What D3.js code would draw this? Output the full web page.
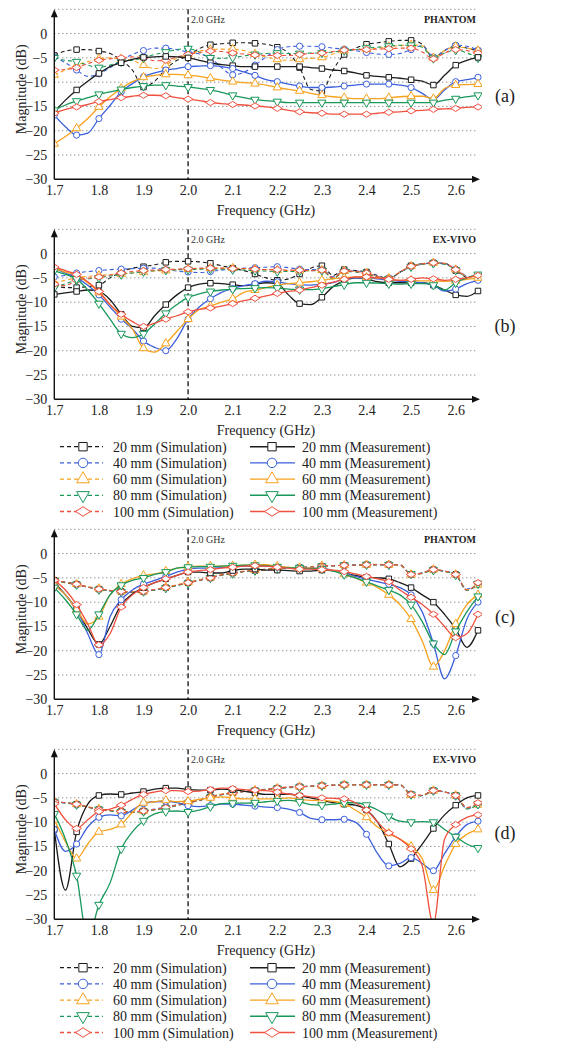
<!DOCTYPE html>
<html>
<head>
<meta charset="utf-8">
<script src="https://cdn.jsdelivr.net/npm/d3@7"></script>
<style>
  body { margin: 0; background: #fff; }
</style>
</head>
<body>
<svg id="chart" width="569" height="1042"></svg>
<script>
// frequency grid (GHz) shared by every curve
const freq = [1.700, 1.725, 1.750, 1.775, 1.800, 1.825, 1.850, 1.875, 1.900, 1.925,
  1.950, 1.975, 2.000, 2.025, 2.050, 2.075, 2.100, 2.125, 2.150, 2.175,
  2.200, 2.225, 2.250, 2.275, 2.300, 2.325, 2.350, 2.375, 2.400, 2.425,
  2.450, 2.475, 2.500, 2.525, 2.550, 2.575, 2.600, 2.625, 2.650];
const freqTicks = [1.7, 1.8, 1.9, 2.0, 2.1, 2.2, 2.3, 2.4, 2.5, 2.6];
const dbTicks = [0, -5, -10, -15, -20, -25, -30];
const dbGrid = [5, 0, -5, -10, -15, -20, -25];
const distances = ['20 mm', '40 mm', '60 mm', '80 mm', '100 mm'];
const panelTags = ['PHANTOM', 'EX-VIVO', 'PHANTOM', 'EX-VIVO'];
const panelNames = ['(a)', '(b)', '(c)', '(d)'];

// (a) phantom
const a_sim20 = [-4.5,-3.6,-3.3,-3.3,-3.6,-4.1,-5.5,-7.5,-11.0,-9.8,-7.3,-5.5,-4.6,-3.1,-2.3,-2.1,-1.9,-1.9,-2.0,-2.2,-2.8,-4.0,-7.0,-11.5,-11.8,-7.5,-4.3,-3.0,-2.2,-1.9,-1.6,-1.4,-1.4,-2.2,-5.0,-3.5,-2.6,-3.0,-3.6];
const a_sim40 = [-4.8,-6.0,-7.5,-8.8,-8.3,-7.0,-5.5,-4.3,-3.5,-3.0,-3.0,-3.3,-3.8,-4.2,-5.0,-7.0,-8.5,-8.0,-6.5,-4.8,-3.3,-2.7,-2.6,-2.6,-2.7,-3.0,-3.2,-3.5,-3.9,-4.2,-4.3,-4.1,-3.3,-2.5,-4.8,-3.5,-2.4,-2.6,-3.4];
const a_sim60 = [-8.5,-7.5,-6.5,-5.8,-5.2,-5.0,-5.2,-5.5,-6.5,-7.2,-6.5,-5.0,-4.3,-3.6,-3.3,-3.2,-3.2,-3.5,-4.2,-4.8,-5.3,-5.5,-5.3,-5.1,-4.9,-4.2,-3.5,-3.3,-3.2,-3.0,-2.7,-2.5,-2.3,-2.5,-5.0,-3.5,-2.7,-3.0,-3.5];
const a_sim80 = [-5.0,-5.5,-5.8,-6.5,-7.0,-6.5,-5.8,-5.5,-5.0,-4.3,-3.8,-3.3,-3.1,-3.8,-5.0,-5.1,-4.9,-4.6,-4.3,-4.1,-4.0,-4.1,-4.1,-4.0,-4.0,-3.8,-3.5,-3.3,-3.0,-2.8,-2.6,-2.4,-2.4,-2.8,-5.1,-4.0,-3.4,-4.0,-5.0];
const a_sim100 = [-7.5,-7.4,-7.0,-6.2,-5.5,-5.2,-5.0,-4.8,-5.0,-5.6,-5.5,-4.8,-4.3,-3.9,-3.6,-3.7,-4.0,-4.2,-4.4,-4.5,-4.5,-4.5,-4.3,-4.1,-4.0,-3.7,-3.4,-3.3,-3.3,-3.2,-3.1,-3.0,-3.0,-3.8,-5.2,-4.0,-3.3,-3.5,-4.0];
const a_meas20 = [-16.1,-13.7,-11.6,-9.8,-8.2,-6.8,-6.0,-5.3,-4.9,-4.8,-4.7,-4.8,-5.0,-5.5,-6.0,-6.4,-6.6,-6.8,-6.8,-6.8,-6.8,-6.8,-6.8,-7.0,-7.2,-7.5,-7.7,-8.1,-8.6,-8.8,-9.0,-9.2,-9.5,-9.8,-10.6,-8.6,-6.5,-5.5,-4.9];
const a_meas40 = [-16.8,-19.2,-20.9,-20.5,-17.5,-14.8,-12.0,-10.3,-8.9,-8.1,-7.5,-7.2,-6.8,-6.7,-6.6,-6.8,-7.2,-7.9,-8.6,-9.5,-9.9,-10.4,-10.8,-11.1,-11.1,-11.0,-10.8,-10.6,-10.4,-10.4,-10.4,-10.6,-11.1,-12.3,-13.6,-11.6,-9.9,-9.5,-9.0];
const a_meas60 = [-22.7,-21.2,-19.5,-17.5,-15.1,-13.0,-11.3,-9.9,-9.0,-8.6,-8.4,-8.4,-8.6,-8.8,-9.2,-9.6,-9.9,-10.1,-10.3,-10.6,-11.1,-11.5,-11.8,-12.3,-12.7,-13.0,-13.2,-13.4,-13.4,-13.4,-13.2,-13.0,-12.9,-12.9,-13.4,-11.3,-10.6,-10.5,-10.4];
const a_meas80 = [-15.8,-14.7,-13.9,-13.2,-12.5,-12.0,-11.5,-11.1,-10.8,-10.6,-10.6,-10.8,-11.0,-11.3,-11.6,-12.1,-12.7,-13.2,-13.6,-13.8,-14.0,-14.2,-14.2,-14.2,-14.2,-14.2,-14.2,-14.2,-14.2,-14.2,-14.2,-14.2,-14.2,-14.2,-14.2,-13.7,-13.4,-13.0,-12.7];
const a_meas100 = [-16.4,-15.6,-15.1,-14.6,-14.0,-13.6,-13.2,-12.9,-12.7,-12.7,-12.8,-13.2,-13.5,-13.8,-14.2,-14.4,-14.6,-14.7,-14.9,-15.1,-15.4,-15.8,-16.1,-16.3,-16.4,-16.6,-16.6,-16.6,-16.6,-16.4,-16.2,-16.1,-15.9,-15.8,-15.6,-15.5,-15.4,-15.2,-15.1];

// (b) ex-vivo
const b_sim20 = [-6.5,-7.0,-7.0,-6.8,-6.5,-5.0,-3.8,-3.0,-2.7,-2.3,-1.8,-1.6,-1.6,-1.7,-2.0,-2.5,-3.0,-3.5,-4.2,-5.0,-5.5,-5.2,-4.2,-3.0,-2.5,-4.5,-3.3,-3.5,-3.8,-4.5,-5.2,-3.8,-2.5,-2.1,-1.9,-2.0,-3.5,-5.0,null];
const b_sim40 = [-4.8,-4.5,-4.0,-3.7,-3.5,-3.3,-3.2,-3.1,-3.0,-3.0,-3.3,-3.6,-3.8,-3.9,-3.7,-3.4,-3.2,-3.0,-2.9,-2.8,-2.7,-2.9,-3.2,-3.3,-3.3,-4.8,-3.6,-3.6,-4.0,-4.7,-5.0,-3.9,-2.7,-2.2,-1.9,-2.1,-3.2,-4.8,null];
const b_sim60 = [-6.0,-5.5,-5.0,-4.7,-4.5,-4.3,-4.2,-4.0,-3.8,-3.6,-3.5,-3.3,-3.2,-3.1,-3.0,-3.0,-3.0,-3.1,-3.2,-3.3,-3.4,-3.5,-3.5,-3.5,-3.4,-5.0,-3.6,-3.7,-4.0,-4.8,-5.1,-3.8,-2.6,-2.2,-1.9,-2.1,-3.3,-4.9,null];
const b_sim80 = [-7.0,-6.2,-5.5,-5.2,-5.0,-4.6,-4.3,-4.0,-3.7,-3.5,-3.4,-3.3,-3.3,-3.2,-3.2,-3.2,-3.3,-3.4,-3.5,-3.6,-3.7,-3.7,-3.6,-3.5,-3.5,-5.2,-3.7,-3.8,-4.1,-4.9,-5.2,-3.9,-2.7,-2.2,-2.0,-2.2,-3.4,-5.0,null];
const b_sim100 = [-6.3,-6.6,-5.5,-5.1,-4.8,-4.4,-4.0,-3.7,-3.5,-3.4,-3.3,-3.2,-3.1,-3.0,-3.0,-3.0,-3.1,-3.1,-3.2,-3.3,-3.3,-3.4,-3.4,-3.5,-3.4,-5.0,-3.6,-3.7,-4.0,-4.8,-5.1,-3.8,-2.6,-2.1,-1.9,-2.0,-3.3,-4.9,null];
const b_meas20 = [-8.4,-8.1,-7.8,-7.5,-7.8,-9.5,-12.5,-15.0,-15.3,-12.8,-10.5,-8.5,-7.0,-6.3,-6.1,-6.2,-6.4,-6.6,-6.3,-6.0,-6.2,-8.5,-10.3,-10.5,-9.0,-6.8,-5.6,-5.0,-5.2,-5.8,-6.0,-6.0,-6.0,-6.0,-6.5,-7.5,-8.5,-8.8,-7.7];
const b_meas40 = [-3.0,-4.0,-5.0,-6.5,-8.5,-11.0,-13.5,-15.5,-18.0,-19.3,-20.0,-17.5,-13.5,-11.0,-9.3,-8.0,-7.2,-6.6,-6.2,-5.7,-5.8,-6.2,-6.4,-6.5,-6.3,-6.0,-5.2,-5.0,-5.0,-5.2,-5.5,-5.7,-5.8,-6.0,-6.5,-7.7,-7.3,-6.2,-5.5];
const b_meas60 = [-3.0,-3.8,-4.5,-6.0,-8.0,-10.5,-13.0,-15.5,-19.5,-20.3,-18.5,-16.0,-13.5,-11.5,-10.8,-10.0,-9.3,-8.0,-7.5,-7.0,-6.5,-6.2,-6.0,-5.8,-5.5,-5.2,-5.0,-4.8,-4.9,-5.0,-5.3,-5.5,-5.5,-5.6,-5.6,-5.7,-5.6,-5.3,-5.0];
const b_meas80 = [-3.5,-4.3,-5.2,-7.5,-10.3,-13.5,-16.5,-17.3,-16.5,-14.5,-12.3,-10.5,-9.0,-8.3,-7.8,-7.5,-7.3,-7.2,-7.1,-7.0,-7.1,-7.3,-7.4,-7.4,-7.2,-6.8,-6.4,-6.0,-6.0,-6.1,-6.2,-6.3,-6.2,-6.2,-6.5,-7.5,-6.0,-5.0,-4.3];
const b_meas100 = [-2.8,-3.5,-4.3,-5.8,-7.8,-10.5,-12.5,-14.0,-15.0,-14.3,-13.5,-12.8,-12.0,-11.5,-11.2,-10.8,-10.3,-9.7,-9.2,-8.7,-8.2,-7.8,-7.5,-7.0,-6.5,-5.9,-5.3,-4.8,-4.8,-5.0,-5.3,-5.5,-5.3,-5.0,-5.2,-5.5,-5.3,-5.0,-4.5];

// (c) phantom
const c_sim20 = [-5.5,-5.9,-6.3,-6.9,-7.3,-7.6,-7.8,-7.9,-7.8,-7.5,-7.0,-6.5,-6.0,-5.5,-5.0,-4.4,-4.0,-3.7,-3.5,-3.3,-3.1,-2.9,-2.9,-2.8,-2.6,-2.5,-2.4,-2.4,-2.3,-2.3,-2.3,-2.3,-4.3,-4.0,-3.3,-3.6,-4.3,-7.5,-6.3];
const c_sim40 = [-5.6,-5.9,-6.4,-6.9,-7.3,-7.7,-7.9,-7.9,-7.7,-7.4,-7.0,-6.5,-6.0,-5.4,-4.9,-4.4,-4.0,-3.7,-3.5,-3.2,-3.0,-2.9,-2.8,-2.7,-2.6,-2.5,-2.4,-2.3,-2.3,-2.3,-2.3,-2.4,-4.2,-4.0,-3.4,-3.6,-4.4,-7.3,-6.2];
const c_sim60 = [-5.5,-6.0,-6.3,-6.8,-7.2,-7.6,-7.8,-7.8,-7.8,-7.4,-6.9,-6.4,-5.9,-5.4,-4.9,-4.3,-3.9,-3.6,-3.4,-3.2,-3.0,-2.9,-2.9,-2.7,-2.5,-2.5,-2.4,-2.4,-2.3,-2.2,-2.3,-2.4,-4.3,-4.1,-3.3,-3.7,-4.3,-7.4,-6.4];
const c_sim80 = [-5.6,-6.0,-6.4,-6.9,-7.4,-7.7,-7.9,-8.0,-7.8,-7.5,-7.1,-6.6,-6.1,-5.5,-5.0,-4.5,-4.1,-3.7,-3.5,-3.3,-3.1,-3.0,-2.9,-2.8,-2.6,-2.5,-2.4,-2.4,-2.3,-2.3,-2.3,-2.3,-4.2,-4.1,-3.4,-3.7,-4.4,-7.6,-6.2];
const c_sim100 = [-5.5,-5.9,-6.3,-6.9,-7.3,-7.6,-7.8,-7.9,-7.8,-7.4,-7.0,-6.5,-6.0,-5.5,-5.0,-4.4,-4.0,-3.7,-3.4,-3.3,-3.1,-2.9,-2.9,-2.8,-2.6,-2.5,-2.4,-2.4,-2.3,-2.3,-2.3,-2.3,-4.3,-4.0,-3.3,-3.6,-4.3,-7.5,-6.0];
const c_meas20 = [-6.0,-8.5,-11.5,-15.5,-18.7,-15.0,-10.5,-8.3,-7.0,-6.0,-5.2,-4.5,-3.8,-3.8,-4.0,-4.0,-3.5,-3.2,-3.2,-3.4,-3.4,-3.5,-3.6,-3.6,-3.4,-3.5,-4.0,-4.5,-4.9,-5.0,-5.2,-6.0,-7.0,-8.5,-10.0,-12.5,-15.5,-19.3,-15.8];
const c_meas40 = [-6.5,-8.5,-11.5,-16.5,-20.8,-13.0,-9.5,-7.5,-6.3,-5.5,-4.7,-3.8,-3.2,-3.0,-3.0,-2.9,-2.7,-2.6,-2.5,-2.6,-2.8,-2.9,-3.0,-3.0,-3.0,-3.5,-4.0,-4.7,-5.3,-5.8,-6.3,-7.0,-8.5,-12.0,-18.5,-25.8,-21.0,-13.5,-10.0];
const c_meas60 = [-6.5,-8.5,-11.5,-14.5,-13.0,-8.5,-6.3,-5.2,-4.5,-4.2,-3.6,-3.0,-2.7,-2.6,-2.6,-2.6,-2.5,-2.4,-2.3,-2.3,-2.6,-2.8,-3.0,-3.0,-3.1,-3.5,-4.2,-5.0,-6.0,-7.0,-8.5,-10.5,-13.5,-18.0,-23.3,-20.0,-14.5,-10.5,-8.5];
const c_meas80 = [-7.0,-9.5,-12.5,-15.8,-12.5,-8.5,-6.5,-5.5,-5.0,-4.3,-3.8,-3.0,-2.8,-2.7,-2.7,-2.6,-2.5,-2.4,-2.4,-2.5,-2.7,-2.9,-3.0,-3.1,-3.2,-3.6,-4.3,-5.0,-5.8,-6.7,-7.5,-8.5,-10.5,-14.0,-18.5,-20.8,-16.0,-12.0,-8.8];
const c_meas100 = [-5.5,-7.5,-10.5,-14.5,-18.8,-16.5,-11.0,-8.5,-7.0,-6.0,-5.2,-4.5,-3.8,-3.5,-3.3,-3.0,-2.8,-2.6,-2.5,-2.6,-2.8,-3.0,-3.2,-3.2,-3.3,-3.4,-3.7,-4.2,-4.7,-5.2,-5.8,-7.5,-9.0,-10.5,-12.5,-15.0,-17.3,-16.5,-12.5];

// (d) ex-vivo
const d_sim20 = [-5.8,-6.0,-6.3,-6.9,-7.4,-7.6,-7.8,-7.9,-7.7,-7.4,-7.0,-6.5,-6.0,-5.5,-4.8,-4.3,-4.0,-3.7,-3.5,-3.3,-3.0,-2.8,-2.7,-2.6,-2.5,-2.4,-2.3,-2.3,-2.3,-2.3,-2.3,-2.3,-4.3,-4.5,-3.5,-3.8,-4.5,-7.0,-6.3];
const d_sim40 = [-5.9,-6.1,-6.4,-6.9,-7.3,-7.6,-7.9,-7.9,-7.7,-7.3,-6.9,-6.4,-5.9,-5.4,-4.8,-4.3,-3.9,-3.6,-3.4,-3.2,-3.0,-2.8,-2.7,-2.6,-2.5,-2.4,-2.3,-2.3,-2.2,-2.3,-2.3,-2.4,-4.2,-4.5,-3.6,-3.8,-4.6,-7.2,-6.2];
const d_sim60 = [-5.8,-6.0,-6.3,-6.8,-7.3,-7.6,-7.8,-7.9,-7.7,-7.4,-7.0,-6.5,-6.0,-5.4,-4.8,-4.2,-3.9,-3.6,-3.4,-3.3,-3.0,-2.8,-2.7,-2.6,-2.5,-2.4,-2.3,-2.3,-2.3,-2.3,-2.3,-2.3,-4.4,-4.5,-3.5,-3.8,-4.5,-7.1,-6.4];
const d_sim80 = [-5.9,-6.0,-6.4,-6.9,-7.4,-7.7,-7.9,-8.0,-7.8,-7.5,-7.1,-6.6,-6.1,-5.5,-4.9,-4.4,-4.0,-3.7,-3.5,-3.3,-3.1,-2.9,-2.8,-2.6,-2.5,-2.4,-2.3,-2.3,-2.3,-2.3,-2.3,-2.3,-4.3,-4.6,-3.5,-3.8,-4.5,-7.3,-6.3];
const d_sim100 = [-5.8,-6.0,-6.3,-6.9,-7.4,-7.6,-7.8,-7.9,-7.7,-7.4,-7.0,-6.5,-6.0,-5.5,-4.8,-4.3,-4.0,-3.7,-3.5,-3.3,-3.0,-2.8,-2.7,-2.6,-2.5,-2.4,-2.3,-2.3,-2.3,-2.3,-2.3,-2.3,-4.3,-4.5,-3.5,-3.8,-4.5,-7.0,-6.0];
const d_meas20 = [-11.5,-24.0,-12.0,-6.3,-4.5,-4.2,-4.3,-4.0,-3.7,-3.2,-3.0,-3.0,-3.3,-3.4,-3.4,-3.2,-3.3,-3.6,-4.0,-4.3,-4.3,-4.2,-4.6,-5.0,-5.5,-6.0,-6.3,-6.5,-7.5,-10.0,-14.5,-19.2,-17.5,-14.5,-11.3,-8.5,-6.5,-5.0,-4.5];
const d_meas40 = [-11.5,-16.0,-14.5,-11.0,-9.0,-8.5,-8.7,-7.5,-6.2,-5.8,-5.7,-6.0,-6.6,-6.8,-6.6,-6.3,-6.3,-6.5,-6.7,-6.9,-7.0,-7.3,-8.0,-9.2,-9.5,-9.5,-9.4,-10.0,-12.5,-16.5,-19.0,-18.5,-17.3,-18.5,-20.0,-16.5,-13.0,-10.5,-9.8];
const d_meas60 = [-9.5,-14.0,-17.5,-14.5,-12.0,-11.5,-10.5,-8.0,-6.0,-5.8,-5.5,-5.8,-5.7,-5.3,-5.0,-4.8,-5.0,-5.2,-5.2,-5.2,-5.2,-5.0,-5.3,-5.5,-5.5,-5.7,-6.2,-7.5,-9.0,-11.0,-12.3,-13.5,-15.0,-17.5,-24.0,-19.0,-14.5,-12.5,-11.5];
const d_meas80 = [-8.3,-13.5,-21.0,-34.0,-27.0,-22.5,-15.5,-12.0,-9.7,-8.3,-7.8,-7.7,-7.9,-7.5,-6.8,-6.2,-6.1,-6.1,-6.0,-5.8,-5.6,-5.5,-5.8,-6.4,-6.5,-6.3,-6.0,-6.0,-6.5,-7.5,-8.8,-9.8,-10.0,-9.9,-10.0,-11.5,-13.0,-14.5,-15.3];
const d_meas100 = [-6.2,-9.5,-11.3,-9.5,-7.8,-7.3,-6.5,-5.3,-4.3,-3.8,-3.5,-3.5,-3.7,-3.6,-3.3,-3.0,-3.1,-3.3,-3.4,-3.5,-3.8,-4.2,-4.5,-4.8,-5.0,-5.1,-5.2,-6.0,-7.5,-10.0,-12.2,-13.5,-15.5,-19.0,-31.0,-13.5,-10.5,-9.0,-8.5];

// styling
const colors = ['#1c1c1c', '#3c60dc', '#f7a21c', '#18985a', '#f0503e'];
const shapes = ['square', 'circle', 'up', 'down', 'diamond'];
const FONT = "'Liberation Serif', 'DejaVu Serif', 'Times New Roman', serif";

// layout
const W = 569;
const plotLeft = 54.3, plotRight = 478;
const plotH = 170;
const panelTop = [9.3, 229.3, 529.3, 749.3];
const nameY = [102, 332, 623, 839];
const legendTop = [446.7, 967.7];
const legendGap = 16.2;

const panels = [
  {sims: [a_sim20, a_sim40, a_sim60, a_sim80, a_sim100], meas: [a_meas20, a_meas40, a_meas60, a_meas80, a_meas100]},
  {sims: [b_sim20, b_sim40, b_sim60, b_sim80, b_sim100], meas: [b_meas20, b_meas40, b_meas60, b_meas80, b_meas100]},
  {sims: [c_sim20, c_sim40, c_sim60, c_sim80, c_sim100], meas: [c_meas20, c_meas40, c_meas60, c_meas80, c_meas100]},
  {sims: [d_sim20, d_sim40, d_sim60, d_sim80, d_sim100], meas: [d_meas20, d_meas40, d_meas60, d_meas80, d_meas100]}
];

const svg = d3.select('#chart').attr('font-family', FONT);
svg.append('rect').attr('width', W).attr('height', 1042).attr('fill', '#fff');

const x = d3.scaleLinear().domain([1.7, 2.65]).range([plotLeft, plotRight]);

function drawMarker(g, shape, cx, cy, size, color) {
  const type = shape === 'circle' ? d3.symbolCircle
    : (shape === 'up' || shape === 'down') ? d3.symbolTriangle
    : d3.symbolSquare;
  let tf = `translate(${cx},${cy})`;
  if (shape === 'down') tf += ' rotate(180)';
  if (shape === 'diamond') tf += ' scale(1.25,0.8) rotate(45)';
  g.append('path')
    .attr('d', d3.symbol().type(type).size(size)())
    .attr('transform', tf)
    .attr('fill', '#fff')
    .attr('stroke', color)
    .attr('stroke-width', 1)
    .attr('vector-effect', 'non-scaling-stroke');
}

panels.forEach((p, pi) => {
  const top = panelTop[pi];
  const y = d3.scaleLinear().domain([-30, 5]).range([top + plotH, top]);
  const g = svg.append('g');

  // grid lines
  g.selectAll('.grid').data(dbGrid).enter().append('line')
    .attr('x1', plotLeft).attr('x2', plotRight - 2)
    .attr('y1', d => y(d)).attr('y2', d => y(d))
    .attr('stroke', '#666').attr('stroke-width', 1)
    .attr('stroke-dasharray', '1,3');

  // 2.0 GHz marker line
  g.append('line')
    .attr('x1', x(2.0)).attr('x2', x(2.0))
    .attr('y1', y(5)).attr('y2', y(-30))
    .attr('stroke', '#222').attr('stroke-width', 1.4)
    .attr('stroke-dasharray', '5,3');
  g.append('text').attr('x', x(2.0) + 3).attr('y', top + 14)
    .attr('font-size', 10).attr('fill', '#333').text('2.0 GHz');
  g.append('text').attr('x', plotRight - 2).attr('y', top + 14)
    .attr('font-size', 10).attr('font-weight', 'bold').attr('text-anchor', 'end')
    .attr('fill', '#222').text(panelTags[pi]);

  // curves
  const clipId = 'clip' + pi;
  svg.append('clipPath').attr('id', clipId).append('rect')
    .attr('x', plotLeft).attr('y', top - 4).attr('width', plotRight - plotLeft + 4).attr('height', plotH + 4);
  const cg = g.append('g').attr('clip-path', `url(#${clipId})`);
  const line = d3.line().x(d => x(d[0])).y(d => y(d[1])).curve(d3.curveMonotoneX);

  const drawSeries = (vals, k, dashed) => {
    const pts = freq.map((f, i) => [f, vals[i]]).filter(d => d[1] !== null);
    cg.append('path').datum(pts)
      .attr('d', line)
      .attr('fill', 'none')
      .attr('stroke', colors[k])
      .attr('stroke-width', dashed ? 1.1 : 1.3)
      .attr('stroke-dasharray', dashed ? '4,3' : null);
    pts.forEach(d => {
      if (Math.round(d[0] * 1000) % 50 === 0) {
        drawMarker(cg, shapes[k], x(d[0]), y(d[1]), 30, colors[k]);
      }
    });
  };
  p.sims.forEach((s, k) => drawSeries(s, k, true));
  p.meas.forEach((s, k) => drawSeries(s, k, false));

  // axes
  const yAxis = d3.axisLeft(y).tickValues(dbTicks).tickSize(0).tickPadding(7);
  g.append('g').attr('transform', `translate(${plotLeft},0)`).call(yAxis)
    .attr('font-family', FONT)
    .call(a => a.select('.domain').remove())
    .selectAll('text').attr('font-size', 14).attr('fill', '#222');
  const xAxis = d3.axisBottom(x).tickValues(freqTicks).tickFormat(d3.format('.1f')).tickSize(0).tickPadding(6);
  g.append('g').attr('transform', `translate(0,${y(-30)})`).call(xAxis)
    .attr('font-family', FONT)
    .call(a => a.select('.domain').remove())
    .selectAll('text').attr('font-size', 14).attr('fill', '#222');

  // axis lines with arrow heads
  g.append('line').attr('x1', plotLeft).attr('x2', plotLeft)
    .attr('y1', y(-30)).attr('y2', y(5) + 4).attr('stroke', '#111').attr('stroke-width', 1.4);
  g.append('path')
    .attr('d', `M${plotLeft},${y(5)} L${plotLeft - 3.5},${y(5) + 8} L${plotLeft + 3.5},${y(5) + 8} Z`)
    .attr('fill', '#111');
  g.append('line').attr('x1', plotLeft).attr('x2', plotRight - 2)
    .attr('y1', y(-30)).attr('y2', y(-30)).attr('stroke', '#111').attr('stroke-width', 1.4);
  g.append('path')
    .attr('d', `M${plotRight + 2},${y(-30)} L${plotRight - 6},${y(-30) - 3.5} L${plotRight - 6},${y(-30) + 3.5} Z`)
    .attr('fill', '#111');

  // titles
  g.append('text').attr('x', 266).attr('y', y(-30) + 36)
    .attr('text-anchor', 'middle').attr('font-size', 14).attr('fill', '#222')
    .text('Frequency (GHz)');
  g.append('text')
    .attr('transform', `translate(26,${top + 80}) rotate(-90)`)
    .attr('text-anchor', 'middle').attr('font-size', 14).attr('fill', '#222')
    .text('Magnitude (dB)');
  g.append('text').attr('x', 505).attr('y', nameY[pi])
    .attr('text-anchor', 'middle').attr('font-size', 18).attr('fill', '#222')
    .text(panelNames[pi]);
});

// legends
legendTop.forEach(ly => {
  const lg = svg.append('g');
  distances.forEach((dist, k) => {
    const cy = ly + k * legendGap;
    // simulation (dashed)
    lg.append('line').attr('x1', 60).attr('x2', 103).attr('y1', cy).attr('y2', cy)
      .attr('stroke', colors[k]).attr('stroke-width', 1.3).attr('stroke-dasharray', '4,3');
    drawMarker(lg, shapes[k], 83, cy, 70, colors[k]);
    lg.append('text').attr('x', 113).attr('y', cy + 5).attr('font-size', 14).attr('fill', '#222')
      .text(`${dist} (Simulation)`);
    // measurement (solid)
    lg.append('line').attr('x1', 250).attr('x2', 295).attr('y1', cy).attr('y2', cy)
      .attr('stroke', colors[k]).attr('stroke-width', 1.4);
    drawMarker(lg, shapes[k], 272, cy, 70, colors[k]);
    lg.append('text').attr('x', 302).attr('y', cy + 5).attr('font-size', 14).attr('fill', '#222')
      .text(`${dist} (Measurement)`);
  });
});

// make sure every label uses the serif face
svg.selectAll('text').style('font-family', FONT);
</script>
</body>
</html>
